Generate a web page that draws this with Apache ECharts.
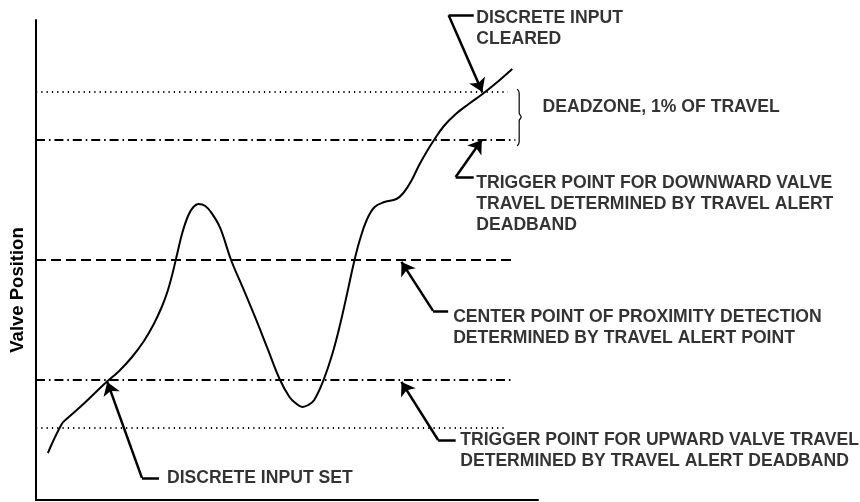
<!DOCTYPE html>
<html lang="en">
<head>
    <meta charset="UTF-8">
    <title>Valve Position</title>
    <script src="https://cdn.jsdelivr.net/npm/echarts@6/dist/echarts.min.js"></script>
    <style>
        body { margin: 0; background: #fff; }
        #main { width: 860px; height: 502px; }
    </style>
</head>
<body>
    <div id="main"></div>
    <script type="text/javascript">
        // valve travel curve (0-100 on both axes)
        var curveX = [2.37, 5.13, 6.31, 9.66, 13.61, 16.57, 19.13, 21.50, 23.47, 25.05, 26.23, 27.22, 28.21, 29.19, 30.37, 31.36, 32.35, 33.73, 35.11, 36.69, 38.86, 41.22, 43.79, 46.15, 48.52, 50.49, 51.68, 53.06, 54.24, 55.42, 57.20, 58.97, 60.55, 62.13, 63.31, 64.50, 65.88, 67.46, 69.43, 71.79, 73.18, 74.75, 76.33, 77.91, 79.29, 81.26, 83.63, 86.19, 88.95, 91.91, 94.87];
        var curveY = [9.79, 15.83, 17.08, 20.21, 24.17, 26.88, 29.79, 33.13, 36.67, 40.21, 43.54, 47.29, 51.67, 55.83, 59.38, 61.04, 61.67, 61.25, 59.58, 56.67, 50.0, 44.17, 37.71, 31.46, 25.21, 21.46, 20.21, 19.38, 19.79, 20.83, 24.79, 30.21, 36.46, 43.75, 49.38, 54.17, 58.33, 61.04, 62.08, 62.71, 63.96, 66.46, 69.79, 72.71, 75.0, 77.92, 80.42, 82.5, 84.58, 87.08, 89.79];

        // horizontal reference levels
        var levels = [85, 75, 50, 25, 15];
        var levelEnds = [94, 95.5, 95, 95, 93.5];
        var levelKinds = ['dot', 'dashdot', 'dash', 'dashdot', 'dot'];

        // brace for deadzone
        var braceX = [95.86, 96.25, 96.25, 96.65, 96.25, 96.25, 95.86];
        var braceY = [85.6, 84.8, 80.6, 79.8, 79.0, 74.6, 73.75];

        // annotation leaders: text end -> corner -> arrow tip
        var leaderStart = [[87.2, 101.0], [87.2, 67.3], [82.1, 39.4], [83.6, 12.5], [24.5, 4.6]];
        var leaderCorner = [[82.2, 101.0], [83.6, 67.3], [79.1, 39.4], [80.1, 12.5], [21.1, 4.6]];
        var leaderTip = [[88.9, 85.0], [88.8, 75.0], [72.8, 49.6], [72.8, 24.6], [14.2, 24.6]];

        // annotation texts
        var labelText = [
            'DISCRETE INPUT\nCLEARED',
            'DEADZONE, 1% OF TRAVEL',
            'TRIGGER POINT FOR DOWNWARD VALVE\nTRAVEL DETERMINED BY TRAVEL ALERT\nDEADBAND',
            'CENTER POINT OF PROXIMITY DETECTION\nDETERMINED BY TRAVEL ALERT POINT',
            'TRIGGER POINT FOR UPWARD VALVE TRAVEL\nDETERMINED BY TRAVEL ALERT DEADBAND',
            'DISCRETE INPUT SET'
        ];
        var labelAt = [[87.6, 98.1], [100.8, 81.9], [87.6, 61.7], [83.0, 36.0], [84.4, 10.2], [26.0, 4.6]];

        var FONT = 'Liberation Sans';
        // dash arrays are multiplied by the line width
        var lineStyles = {
            dot: { width: 2.2, type: [1.2, 4.1] },
            dash: { width: 1.8, type: [10, 5] },
            dashdot: { width: 1.8, type: [9, 3.9, 1.6, 3.9] }
        };

        var series = [];

        // 参考线
        levels.forEach(function (lv, i) {
            var st = lineStyles[levelKinds[i]];
            series.push({
                type: 'line',
                data: [[0, lv], [levelEnds[i], lv]],
                symbol: 'none',
                silent: true,
                lineStyle: { color: '#000', width: st.width, type: st.type }
            });
        });

        // 阀门曲线
        series.push({
            type: 'line',
            data: curveX.map(function (x, i) { return [x, curveY[i]]; }),
            smooth: 0.4,
            symbol: 'none',
            lineStyle: { color: '#000', width: 2 }
        });

        series.push({
            type: 'line',
            data: braceX.map(function (x, i) { return [x, braceY[i]]; }),
            smooth: 0.4,
            symbol: 'none',
            clip: false,
            lineStyle: { color: '#000', width: 1.2 }
        });

        // leader short horizontals
        series.push({
            type: 'lines',
            coordinateSystem: 'cartesian2d',
            clip: false,
            symbol: ['none', 'none'],
            lineStyle: { color: '#000', width: 2.5, opacity: 1 },
            data: leaderStart.map(function (p, i) { return { coords: [p, leaderCorner[i]] }; })
        });

        // leader arrows
        series.push({
            type: 'lines',
            coordinateSystem: 'cartesian2d',
            clip: false,
            symbol: ['none', 'arrow'],
            symbolSize: 13,
            lineStyle: { color: '#000', width: 2.5, opacity: 1 },
            data: leaderCorner.map(function (p, i) { return { coords: [p, leaderTip[i]] }; })
        });

        // 文本标注
        series.push({
            type: 'scatter',
            clip: false,
            symbolSize: 1,
            itemStyle: { color: 'rgba(0,0,0,0)' },
            data: labelAt.map(function (p, i) { return { value: p, name: labelText[i] }; }),
            label: {
                show: true,
                position: 'right',
                distance: 0,
                formatter: function (p) { return p.name; },
                color: '#000',
                fontFamily: FONT,
                fontWeight: 'bold',
                fontSize: 17.6,
                lineHeight: 21,
                align: 'left'
            }
        });

        var option = {
            animation: false,
            grid: { left: 31, right: 322, top: 20, bottom: 2 },
            xAxis: {
                type: 'value',
                min: 0,
                max: 100,
                axisLine: { show: true, lineStyle: { color: '#000', width: 2 } },
                axisTick: { show: false },
                axisLabel: { show: false },
                splitLine: { show: false }
            },
            yAxis: {
                type: 'value',
                min: 0,
                max: 100,
                name: 'Valve Position',
                nameLocation: 'middle',
                nameRotate: 90,
                nameGap: 9,
                nameTextStyle: {
                    color: '#000',
                    fontFamily: FONT,
                    fontWeight: 'bold',
                    fontSize: 18.5,
                    padding: [0, 60, 0, 0]
                },
                axisLine: { show: true, lineStyle: { color: '#000', width: 2 } },
                axisTick: { show: false },
                axisLabel: { show: false },
                splitLine: { show: false }
            },
            series: series
        };

        var myChart = echarts.init(document.getElementById('main'));
        myChart.setOption(option);
    </script>
</body>
</html>
